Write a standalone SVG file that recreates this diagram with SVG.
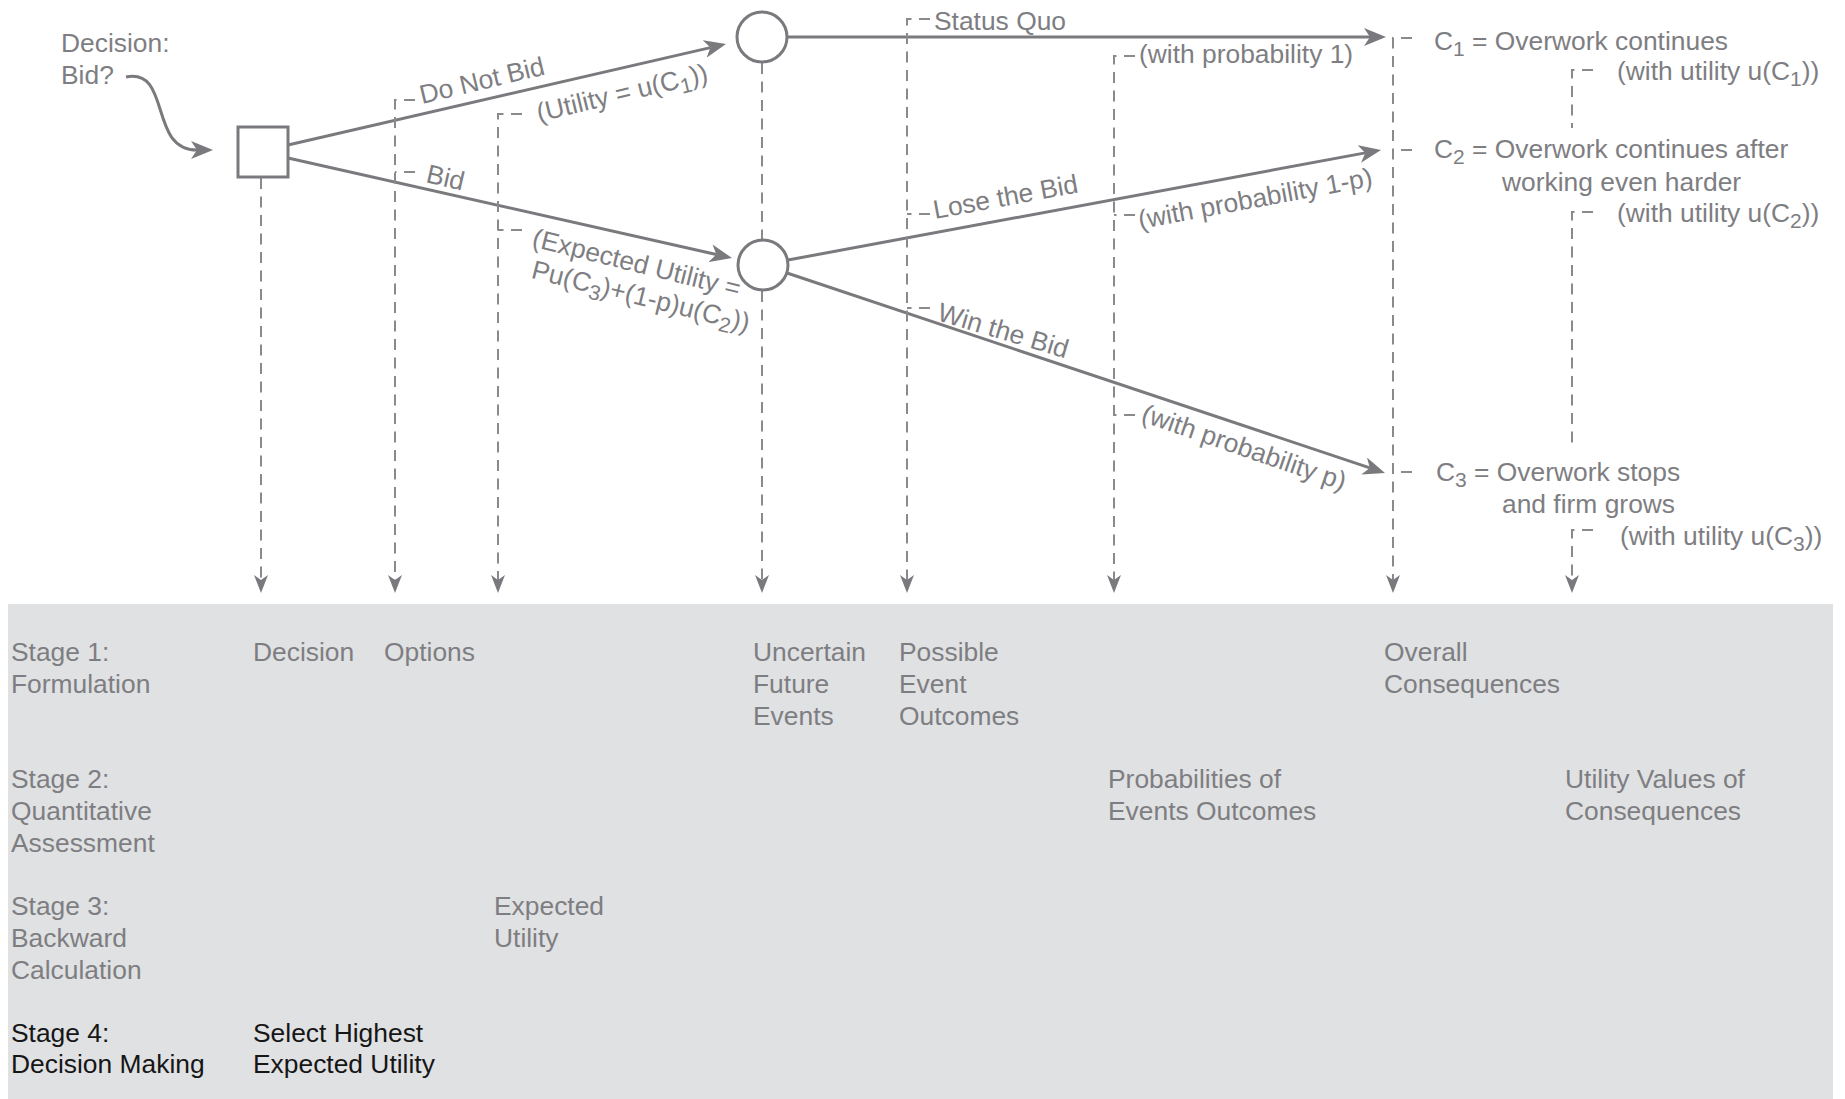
<svg xmlns="http://www.w3.org/2000/svg" width="1845" height="1099" viewBox="0 0 1845 1099">
<defs>
<style>
text{font-family:"Liberation Sans",Arial,Helvetica,sans-serif;font-size:26.4px;fill:#7e7e82}
.k{fill:#161616}
.ln{stroke:#7a7a7e;stroke-width:3;fill:none}
.dl{stroke:#8a8a8e;stroke-width:2;stroke-dasharray:11 7.5;fill:none}
.nd{stroke:#7a7a7e;stroke-width:3;fill:#ffffff}
</style>
<marker id="ah" viewBox="0 0 22 18" refX="6" refY="9" markerWidth="22" markerHeight="18" markerUnits="userSpaceOnUse" orient="auto">
<path d="M0,0 L22,9 L0,18 L6,9 Z" fill="#7a7a7e"/>
</marker>
<marker id="ad" viewBox="0 0 18 14" refX="5" refY="7" markerWidth="18" markerHeight="14" markerUnits="userSpaceOnUse" orient="auto">
<path d="M0,0 L18,7 L0,14 L5,7 Z" fill="#7a7a7e"/>
</marker>
</defs>
<rect id="panel" x="8" y="604" width="1825" height="495" fill="#e0e1e3"/>

<g id="connectors">
<path class="ln" d="M126,77 C172,68 148,150 197,150" marker-end="url(#ah)"/>
<path class="ln" d="M288,145 L710.4,47.6" marker-end="url(#ah)"/>
<path class="ln" d="M288,158 L716.4,254.5" marker-end="url(#ah)"/>
<path class="ln" d="M787,37 L1370,37" marker-end="url(#ah)"/>
<path class="ln" d="M788,260 L1365.3,152.9" marker-end="url(#ah)"/>
<path class="ln" d="M787,273 L1369.8,467.9" marker-end="url(#ah)"/>
</g>

<g id="guides">
<path class="dl" d="M261,178 V580" marker-end="url(#ad)"/>
<path class="dl" d="M415,100 H395 V580" marker-end="url(#ad)"/>
<path class="dl" d="M415,172 H395"/>
<path class="dl" d="M522,114 H498 V580" marker-end="url(#ad)"/>
<path class="dl" d="M522,230 H498"/>
<path class="dl" d="M762,63 V239"/>
<path class="dl" d="M762,291 V580" marker-end="url(#ad)"/>
<path class="dl" d="M930,19 H907 V580" marker-end="url(#ad)"/>
<path class="dl" d="M930,214 H907"/>
<path class="dl" d="M930,308 H907"/>
<path class="dl" d="M1135,56 H1114 V580" marker-end="url(#ad)"/>
<path class="dl" d="M1135,215 H1114"/>
<path class="dl" d="M1135,415 H1114"/>
<path class="dl" d="M1412,38 H1393 V580" marker-end="url(#ad)"/>
<path class="dl" d="M1412,150 H1393"/>
<path class="dl" d="M1412,472 H1393"/>
<path class="dl" d="M1593,70 H1572 V128"/>
<path class="dl" d="M1593,212 H1572 V447"/>
<path class="dl" d="M1593,530 H1572 V580" marker-end="url(#ad)"/>
</g>

<g id="decision-label"><text x="61" y="52">Decision:</text><text x="61" y="84">Bid?</text></g>
<g id="decision-node"><rect class="nd" x="238" y="127" width="50" height="50"/></g>
<g id="chance-node-1"><circle class="nd" cx="762" cy="37" r="25"/></g>
<g id="chance-node-2"><circle class="nd" cx="763" cy="265" r="25"/></g>

<g id="branch-labels">
<text transform="translate(422,104) rotate(-13.5)">Do Not Bid</text>
<text transform="translate(539,122) rotate(-13.5)">(Utility = u(C<tspan font-size="21" dy="6">1</tspan><tspan dy="-6">))</tspan></text>
<text transform="translate(425,182) rotate(13)">Bid</text>
<g transform="translate(531,246) rotate(14)">
<text x="0" y="0">(Expected Utility =</text>
<text x="7" y="31">Pu(C<tspan font-size="21" dy="6">3</tspan><tspan dy="-6">)+(1-p)u(C</tspan><tspan font-size="21" dy="6">2</tspan><tspan dy="-6">))</tspan></text>
</g>
<text x="934" y="29.5">Status Quo</text>
<text x="1139" y="63">(with probability 1)</text>
<text transform="translate(935,219) rotate(-10.5)">Lose the Bid</text>
<text transform="translate(1140,229) rotate(-10.5)">(with probability 1-p)</text>
<text transform="translate(936,320) rotate(16.5)">Win the Bid</text>
<text transform="translate(1140,421) rotate(19)">(with probability p)</text>
</g>

<g id="consequence-1">
<text x="1434" y="50">C<tspan font-size="21" dy="6">1</tspan><tspan dy="-6"> = Overwork continues</tspan></text>
<text x="1617" y="80">(with utility u(C<tspan font-size="21" dy="6">1</tspan><tspan dy="-6">))</tspan></text>
</g>
<g id="consequence-2">
<text x="1434" y="158">C<tspan font-size="21" dy="6">2</tspan><tspan dy="-6"> = Overwork continues after</tspan></text>
<text x="1502" y="191">working even harder</text>
<text x="1617" y="222">(with utility u(C<tspan font-size="21" dy="6">2</tspan><tspan dy="-6">))</tspan></text>
</g>
<g id="consequence-3">
<text x="1436" y="481">C<tspan font-size="21" dy="6">3</tspan><tspan dy="-6"> = Overwork stops</tspan></text>
<text x="1502" y="513">and firm grows</text>
<text x="1620" y="545">(with utility u(C<tspan font-size="21" dy="6">3</tspan><tspan dy="-6">))</tspan></text>
</g>

<g id="stages">
<text x="11" y="661">Stage 1:</text><text x="11" y="693">Formulation</text>
<text x="253" y="661">Decision</text>
<text x="384" y="661">Options</text>
<text x="753" y="661">Uncertain</text><text x="753" y="693">Future</text><text x="753" y="725">Events</text>
<text x="899" y="661">Possible</text><text x="899" y="693">Event</text><text x="899" y="725">Outcomes</text>
<text x="1384" y="661">Overall</text><text x="1384" y="693">Consequences</text>
<text x="11" y="788">Stage 2:</text><text x="11" y="820">Quantitative</text><text x="11" y="852">Assessment</text>
<text x="1108" y="788">Probabilities of</text><text x="1108" y="820">Events Outcomes</text>
<text x="1565" y="788">Utility Values of</text><text x="1565" y="820">Consequences</text>
<text x="11" y="915">Stage 3:</text><text x="11" y="947">Backward</text><text x="11" y="979">Calculation</text>
<text x="494" y="915">Expected</text><text x="494" y="947">Utility</text>
<text class="k" x="11" y="1042">Stage 4:</text><text class="k" x="11" y="1073">Decision Making</text>
<text class="k" x="253" y="1042">Select Highest</text><text class="k" x="253" y="1073">Expected Utility</text>
</g>
</svg>
